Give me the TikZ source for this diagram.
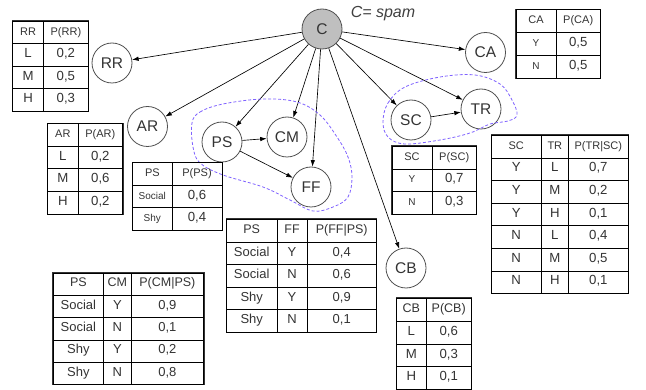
\documentclass[tikz,border=0pt]{standalone}
\usepackage{fontspec}
\setmainfont{Liberation Sans}
\usetikzlibrary{arrows.meta,matrix}
\definecolor{txt}{HTML}{333333}
\definecolor{circ}{HTML}{505050}
\definecolor{cfill}{HTML}{BFBFBF}
\definecolor{blobc}{HTML}{7F62FF}
\newcommand\tabhead{\fontsize{11}{11}\selectfont}
\newcommand\tabval{\fontsize{13.2}{13.2}\selectfont}
\newcommand\tabsmall{\fontsize{10}{10}\selectfont}
\newcommand\tabbig{\fontsize{13}{13}\selectfont}
\newcommand\tabmid{\fontsize{12.5}{12.5}\selectfont}
\begin{document}
\begin{tikzpicture}[x=1pt,y=-1pt,
  bn/.style={circle,draw=circ,line width=0.8pt,minimum size=40pt,inner sep=0pt,
    font=\fontsize{15.5}{15.5}\selectfont,text=txt},
  edge/.style={draw=black,line width=0.65pt,-{Latex[length=6.5pt,width=4.5pt]}},
  blob/.style={draw=blobc,dash pattern=on 3pt off 2pt,line width=0.8pt},
  cpt/.style={matrix of nodes,anchor=north west,inner sep=0pt,outer sep=0pt,
    draw=black!80,line width=1pt,
    column sep=-0.7pt,row sep=-0.7pt,
    nodes={draw=black,line width=0.7pt,inner sep=0pt,anchor=center,
      minimum height=22.6pt,text height=8pt,text depth=2.5pt,
      font=\tabval,text=txt},
    row 1/.style={nodes={font=\tabhead}}},
  cw1/.style={column 1/.style={nodes={minimum width=#1}}},
  cw2/.style={column 2/.style={nodes={minimum width=#1}}},
  cw3/.style={column 3/.style={nodes={minimum width=#1}}}
]
\useasboundingbox (0,0) rectangle (646,390);

% Bayesian network nodes
\node[bn,fill=cfill] (C) at (322,29) {C};
\node[font=\itshape\fontsize{16}{16}\selectfont,text=black!75] (title) at (383,14) {C= spam};
\node[bn] (RR) at (112,63) {RR};
\node[bn] (CA) at (485.5,52.5) {CA};
\node[bn] (AR) at (147.5,126.5) {AR};
\node[bn] (PS) at (222,142) {PS};
\node[bn] (CM) at (287,137) {CM};
\node[bn] (FF) at (311,187) {FF};
\node[bn] (SC) at (411,120) {SC};
\node[bn] (TR) at (481,109) {TR};
\node[bn] (CB) at (406,268) {CB};

% edges
\foreach \t in {RR,AR,PS,CM,FF,CB,SC,TR,CA}
  \draw[edge] (C) -- (\t);
\draw[edge] (PS) -- (CM);
\draw[edge] (PS) -- (FF);
\draw[edge] (SC) -- (TR);

% dashed groups
\draw[blob] plot[smooth cycle,tension=0.6] coordinates {
  (192,123) (200,112) (223,104) (263,99) (297,102) (320,115) (337,137)
  (348,157) (352,177) (348,197) (333,207) (313,211) (290,200) (263,187)
  (223,175) (200,163) (193,147)};
\draw[blob] plot[smooth cycle,tension=0.6] coordinates {
  (383,122) (388,103) (405,87) (440,77) (475,75) (500,84) (512,100)
  (517,115) (508,121) (490,124) (470,133) (440,140) (405,144) (388,137)};

% conditional probability tables
\matrix[cpt,cw1=31pt,cw2=44.5pt] (tRR) at (12.3,20.7) {
  RR & P(RR) \\ L & 0,2 \\ M & 0,5 \\ H & 0,3 \\};
\matrix[cpt,cw1=40pt,cw2=44.3pt,nodes={minimum height=23pt}] (tCA) at (515.7,9.3) {
  CA & P(CA) \\ |[font=\tabsmall]| Y & 0,5 \\ |[font=\tabsmall]| N & 0,5 \\};
\draw[line width=1.5pt] (tCA-2-1.south west) -- (tCA-2-2.south east);
\matrix[cpt,cw1=30.4pt,cw2=44.6pt] (tAR) at (47.3,123.3) {
  AR & P(AR) \\ L & 0,2 \\ M & 0,6 \\ H & 0,2 \\};
\matrix[cpt,cw1=39.4pt,cw2=50pt] (tPS) at (132.3,162.3) {
  PS & P(PS) \\ |[font=\tabsmall]| Social & 0,6 \\ |[font=\tabsmall]| Shy & 0,4 \\};
\matrix[cpt,cw1=40pt,cw2=44.3pt] (tSC) at (391.7,146) {
  SC & P(SC) \\ |[font=\tabsmall]| Y & 0,7 \\ |[font=\tabsmall]| N & 0,3 \\};
\matrix[cpt,cw1=49.7pt,cw2=27.6pt,cw3=59.4pt] (tTR) at (491,135) {
  SC & TR & P(TR\textbar SC) \\
  Y & L & 0,7 \\ Y & M & 0,2 \\ Y & H & 0,1 \\
  N & L & 0,4 \\ N & M & 0,5 \\ N & H & 0,1 \\};
\matrix[cpt,cw1=50.7pt,cw2=30pt,cw3=69.3pt,nodes={font=\tabbig},
  row 1/.style={nodes={font=\tabmid}}] (tFF) at (226,219) {
  PS & FF & P(FF\textbar PS) \\
  Social & Y & 0,4 \\ Social & N & 0,6 \\ Shy & Y & 0,9 \\ Shy & N & 0,1 \\};
\matrix[cpt,cw1=50.6pt,cw2=27.4pt,cw3=72.6pt,nodes={font=\tabbig,minimum height=22.3pt},
  row 1/.style={nodes={font=\tabmid}}] (tCM) at (52.7,272.7) {
  PS & CM & P(CM\textbar PS) \\
  Social & Y & 0,9 \\ Social & N & 0,1 \\ Shy & Y & 0,2 \\ Shy & N & 0,8 \\};
\matrix[cpt,cw1=30pt,cw2=44.7pt,nodes={minimum height=22.9pt},
  row 1/.style={nodes={font=\tabmid}}] (tCB) at (396,297.7) {
  CB & P(CB) \\ L & 0,6 \\ M & 0,3 \\ H & 0,1 \\};
\end{tikzpicture}
\end{document}
